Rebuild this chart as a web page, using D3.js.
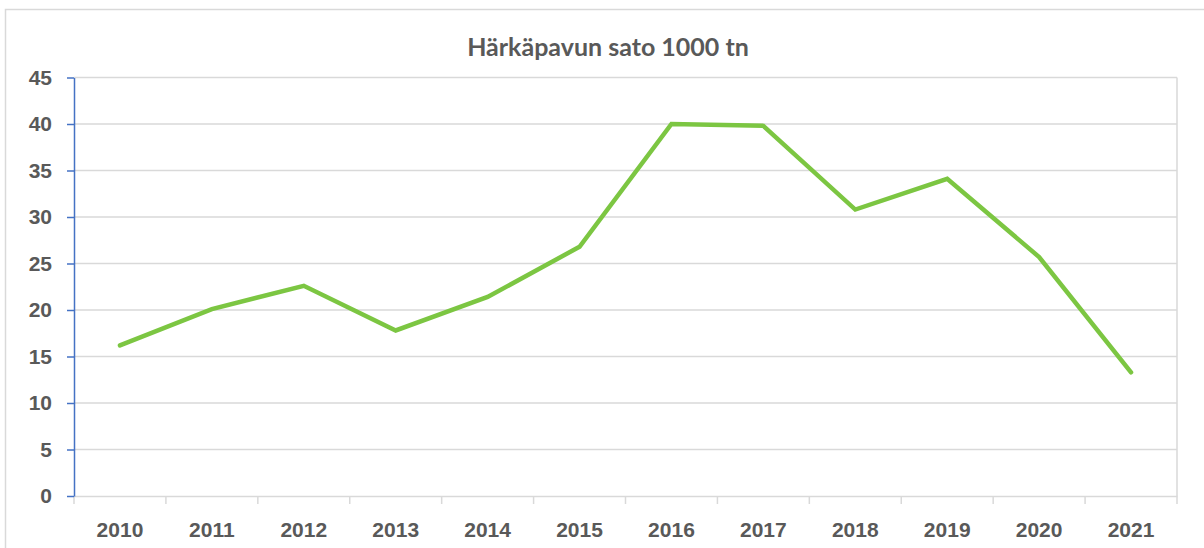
<!DOCTYPE html>
<html>
<head>
<meta charset="utf-8">
<script src="https://cdn.jsdelivr.net/npm/d3@7"></script>
<style>
  body { margin: 0; background: #fff; }
  svg { display: block; font-family: Lato, "Open Sans", sans-serif; }
</style>
</head>
<body>
<div id="chart"></div>
<script>
const chartTitle = "Härkäpavun sato 1000 tn";
const years = ["2010", "2011", "2012", "2013", "2014", "2015", "2016", "2017", "2018", "2019", "2020", "2021"];
const harvest = [16.2, 20.1, 22.6, 17.8, 21.4, 26.8, 40.0, 39.8, 30.8, 34.1, 25.7, 13.3];
const yTicks = [0, 5, 10, 15, 20, 25, 30, 35, 40, 45];

const width = 1204, height = 548;
const margins = { top: 77.5, bottom: 52, left: 74, right: 27 };

const svg = d3.select("#chart").append("svg")
  .attr("width", width)
  .attr("height", height);

// outer chart frame
svg.append("rect")
  .attr("x", 5.5).attr("y", 9.5)
  .attr("width", width + 10).attr("height", height + 10)
  .attr("fill", "none")
  .attr("stroke", "#d9d9d9")
  .attr("stroke-width", 1.5);

const x = d3.scaleBand()
  .domain(years)
  .range([margins.left, width - margins.right])
  .padding(0);

const y = d3.scaleLinear()
  .domain([0, 45])
  .range([height - margins.bottom, margins.top]);

// gridlines
svg.append("g")
  .selectAll("line")
  .data(yTicks.filter(d => d > 0))
  .enter().append("line")
  .attr("x1", margins.left).attr("x2", width - margins.right)
  .attr("y1", d => y(d)).attr("y2", d => y(d))
  .attr("stroke", "#d9d9d9")
  .attr("stroke-width", 1.5);

// right border of the plot area
svg.append("line")
  .attr("x1", width - margins.right).attr("x2", width - margins.right)
  .attr("y1", y(45)).attr("y2", y(0) + 8)
  .attr("stroke", "#d9d9d9")
  .attr("stroke-width", 1.5);

// x axis
const xAxis = svg.append("g")
  .attr("transform", "translate(0," + y(0) + ")")
  .call(d3.axisBottom(x).tickSize(0).tickPadding(26));
xAxis.select(".domain").attr("stroke", "#d9d9d9").attr("stroke-width", 1.5);
xAxis.selectAll("text")
  .attr("fill", "#595959")
  .style("font-size", "21px")
  .style("font-weight", "bold");

// category separators below the axis
svg.append("g")
  .selectAll("line")
  .data(years)
  .enter().append("line")
  .attr("x1", d => x(d)).attr("x2", d => x(d))
  .attr("y1", y(0)).attr("y2", y(0) + 8)
  .attr("stroke", "#d9d9d9")
  .attr("stroke-width", 1.5);

// y axis
const yAxis = svg.append("g")
  .attr("transform", "translate(" + margins.left + ",0)")
  .call(d3.axisLeft(y).tickValues(yTicks).tickSize(7).tickPadding(15).tickSizeOuter(0));
yAxis.select(".domain").attr("stroke", "#4472c4").attr("stroke-width", 1.5);
yAxis.selectAll("line").attr("stroke", "#4472c4").attr("stroke-width", 1.5);
yAxis.selectAll("text")
  .attr("fill", "#595959")
  .style("font-size", "21px")
  .style("font-weight", "bold");

// series line
const line = d3.line()
  .x((d, i) => x(years[i]) + x.bandwidth() / 2)
  .y(d => y(d));

svg.append("path")
  .datum(harvest)
  .attr("d", line)
  .attr("fill", "none")
  .attr("stroke", "#7cc642")
  .attr("stroke-width", 4.5)
  .attr("stroke-linecap", "round");

// title
svg.append("text")
  .attr("x", 608)
  .attr("y", 56)
  .attr("text-anchor", "middle")
  .attr("fill", "#595959")
  .style("font-size", "25px")
  .style("font-weight", "bold")
  .text(chartTitle);
</script>
</body>
</html>
